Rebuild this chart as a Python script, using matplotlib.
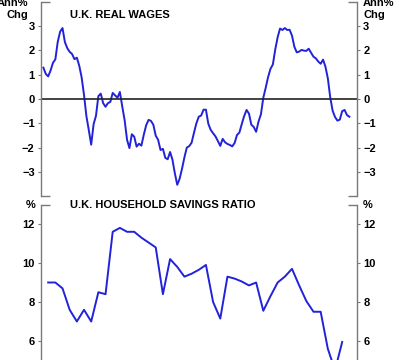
import numpy as np
import matplotlib
matplotlib.use("Agg")
import matplotlib.pyplot as plt

plt.rcParams['font.family'] = ['Liberation Sans', 'DejaVu Sans']
plt.rcParams['font.weight'] = 'bold'

# Monthly real wage growth (Ann% chg)
real_wages = [
    1.29, 1.03, 0.93, 1.17, 1.49, 1.63, 2.35, 2.77, 2.92, 2.34,
    2.09, 1.94, 1.85, 1.64, 1.70, 1.37, 0.89, 0.16, -0.71, -1.28,
    -1.88, -1.04, -0.69, 0.12, 0.22, -0.17, -0.32, -0.17, -0.12, 0.25,
    0.15, 0.05, 0.29, -0.31, -0.88, -1.68, -2.02, -1.45, -1.55, -1.96,
    -1.84, -1.92, -1.47, -1.08, -0.86, -0.90, -1.06, -1.51, -1.68, -2.10,
    -2.05, -2.42, -2.48, -2.18, -2.50, -3.06, -3.53, -3.28, -2.87, -2.40,
    -2.00, -1.94, -1.80, -1.39, -1.00, -0.73, -0.68, -0.44, -0.44, -1.02,
    -1.27, -1.41, -1.54, -1.73, -1.93, -1.64, -1.78, -1.85, -1.89, -1.95,
    -1.81, -1.48, -1.38, -1.03, -0.70, -0.45, -0.60, -1.06, -1.15, -1.35,
    -0.93, -0.63, 0.05, 0.46, 0.90, 1.24, 1.42, 2.04, 2.54, 2.90,
    2.84, 2.92, 2.84, 2.85, 2.61, 2.15, 1.92, 1.95, 2.02, 1.99,
    1.98, 2.07, 1.90, 1.74, 1.67, 1.54, 1.45, 1.62, 1.33, 0.85,
    0.07, -0.48, -0.74, -0.89, -0.85, -0.50, -0.45, -0.66, -0.73,
]

# Quarterly household savings ratio (%)
savings_ratio = [
    9.0, 9.0, 8.7, 7.6, 7.0, 7.6, 7.0, 8.5, 8.4, 11.6,
    11.8, 11.6, 11.6, 11.3, 11.05, 10.8, 8.4, 10.2, 9.8, 9.3,
    9.45, 9.65, 9.9, 8.0, 7.15, 9.3, 9.2, 9.05, 8.85, 9.0,
    7.55, 8.3, 9.0, 9.3, 9.7, 8.85, 8.05, 7.5, 7.5, 5.6,
    4.5, 5.95,
]

months = np.arange(len(real_wages))
quarters = 2 + 3 * np.arange(len(savings_ratio))

W, H = 399, 360
fig = plt.figure(figsize=(W / 100, H / 100), dpi=100)

line_color = '#2222d8'
spine_color = '#7a7a7a'
fs = 8

def fy(ypix):
    return (H - ypix) / H

def style_axes(ax):
    for s in ['top', 'bottom']:
        ax.spines[s].set_visible(False)
    for s in ['left', 'right']:
        ax.spines[s].set_color(spine_color)
        ax.spines[s].set_linewidth(1.0)
    ax.tick_params(axis='x', bottom=False, labelbottom=False)
    ax.tick_params(axis='y', which='both', direction='out', length=2.5,
                   width=0.8, color=spine_color, labelsize=fs, pad=2,
                   left=True, right=True, labelleft=True, labelright=True)
    for lbl in ax.get_yticklabels():
        lbl.set_fontweight('bold')
    ax.set_facecolor('none')

def stub(ax, y):
    L = 0.028
    ax.plot([0, L], [y, y], transform=ax.transAxes, color=spine_color,
            lw=1.0, clip_on=False, solid_capstyle='butt')
    ax.plot([1 - L, 1], [y, y], transform=ax.transAxes, color=spine_color,
            lw=1.0, clip_on=False, solid_capstyle='butt')

def ftext(x, ypix, s, ha):
    fig.text(x / W, fy(ypix), s, fontsize=fs, fontweight='bold',
             ha=ha, va='baseline')

xl = (-1.0, 131.2)

# Top panel
ax1 = fig.add_axes([41 / W, fy(196.2), 316 / W, 194.4 / H])
ax1.plot(months, real_wages, color=line_color, lw=1.4)
ax1.axhline(0, color='#222222', lw=1.2)
ax1.set_xlim(*xl)
ax1.set_ylim(-4, 4)
ax1.set_yticks([-3, -2, -1, 0, 1, 2, 3])
style_axes(ax1)
stub(ax1, 0)
stub(ax1, 1)
ftext(70, 17.5, 'U.K. REAL WAGES', 'left')
ftext(28, 5.5, 'Ann%', 'right')
ftext(28, 18.5, 'Chg', 'right')
ftext(363, 5.5, 'Ann%', 'left')
ftext(363, 18.5, 'Chg', 'left')

# Bottom panel
ax2 = fig.add_axes([41 / W, fy(380), 316 / W, 175.5 / H])
ax2.plot(quarters, savings_ratio, color=line_color, lw=1.4)
ax2.set_xlim(*xl)
ax2.set_ylim(4, 13)
ax2.set_yticks([6, 8, 10, 12])
style_axes(ax2)
stub(ax2, 1)
ftext(70, 208, 'U.K. HOUSEHOLD SAVINGS RATIO', 'left')
ftext(35, 208, '%', 'right')
ftext(363, 208, '%', 'left')

fig.savefig('out.png', dpi=100, facecolor='white')
